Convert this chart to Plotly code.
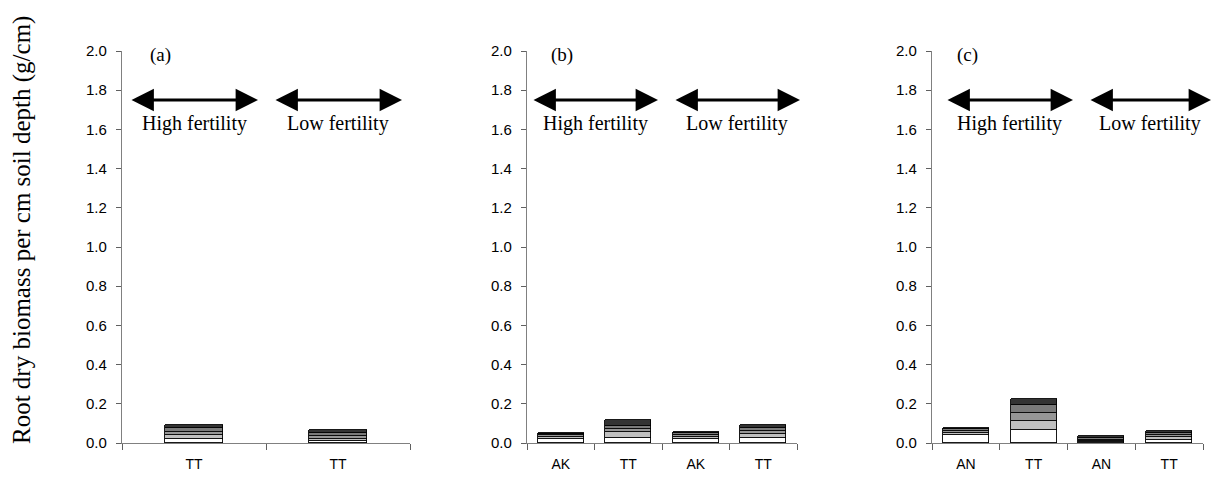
import plotly.graph_objects as go

# ---------------- data ----------------
layer_names = ["Layer 1", "Layer 2", "Layer 3", "Layer 4", "Layer 5"]
layer_colors = ["#ffffff", "#c0c0c0", "#969696", "#7a7a7a", "#333333"]

panel_a_labels = ["TT", "TT"]
panel_a_values = [  # one list per layer (bottom -> top)
    [0.022, 0.010],
    [0.018, 0.012],
    [0.018, 0.014],
    [0.018, 0.015],
    [0.018, 0.015],
]

panel_b_labels = ["AK", "TT", "AK", "TT"]
panel_b_values = [
    [0.020, 0.028, 0.020, 0.028],
    [0.010, 0.026, 0.012, 0.017],
    [0.009, 0.015, 0.009, 0.015],
    [0.007, 0.018, 0.008, 0.015],
    [0.007, 0.029, 0.007, 0.015],
]

panel_c_labels = ["AN", "TT", "AN", "TT"]
panel_c_values = [
    [0.039, 0.065, 0.004, 0.017],
    [0.014, 0.046, 0.004, 0.013],
    [0.010, 0.041, 0.008, 0.010],
    [0.007, 0.044, 0.010, 0.010],
    [0.005, 0.031, 0.008, 0.010],
]

panel_tags = ["(a)", "(b)", "(c)"]
fertility_labels = ["High fertility", "Low fertility"]
y_ticks = [0.0, 0.2, 0.4, 0.6, 0.8, 1.0, 1.2, 1.4, 1.6, 1.8, 2.0]
y_title = "Root dry biomass per cm soil depth (g/cm)"

# ---------------- layout helpers ----------------
OFF = 8
W, H = 1221 - 2 * OFF, 479 - 2 * OFF
def px(x):
    return (x - OFF) / W
def py(y):
    return 1 - (y - OFF) / H

panels = [
    dict(labels=panel_a_labels, values=panel_a_values, dom=(122, 410), width=0.4,
         arrows=[(130, 258), (274, 402)], tag_x=160),
    dict(labels=panel_b_labels, values=panel_b_values, dom=(527, 797), width=0.68,
         arrows=[(532, 658), (674, 800)], tag_x=562),
    dict(labels=panel_c_labels, values=panel_c_values, dom=(932, 1203), width=0.68,
         arrows=[(946, 1073), (1089, 1211)], tag_x=968),
]

ydom = (py(443), py(51))
fig = go.Figure()
serif = "Liberation Serif, Times New Roman, serif"
sans = "Liberation Sans, Arial, sans-serif"

annotations = []
for i, p in enumerate(panels):
    xa = "x" if i == 0 else f"x{i+1}"
    ya = "y" if i == 0 else f"y{i+1}"
    xs = list(range(len(p["labels"])))
    for li in range(len(layer_names)):
        fig.add_trace(go.Bar(
            x=xs, y=p["values"][li], name=layer_names[li],
            marker=dict(color=layer_colors[li], line=dict(color="#000000", width=0.9)),
            width=p["width"], xaxis=xa, yaxis=ya, showlegend=False,
        ))
    n = len(xs)
    axis_key = "xaxis" if i == 0 else f"xaxis{i+1}"
    yaxis_key = "yaxis" if i == 0 else f"yaxis{i+1}"
    fig.layout[axis_key] = dict(
        domain=[px(p["dom"][0]), px(p["dom"][1])], anchor=ya, automargin=False,
        range=[-0.5, n - 0.5], tickmode="array", tickvals=xs, ticktext=p["labels"],
        ticks="", ticklabelstandoff=8, showgrid=False, zeroline=False, showline=True,
        linecolor="#808080", linewidth=1.3,
        tickfont=dict(family=sans, size=14, color="#000000"),
        minor=dict(tickmode="array", tickvals=[k - 0.5 for k in range(n + 1)],
                   ticks="outside", ticklen=6, tickcolor="#606060", tickwidth=1.3,
                   showgrid=False),
        fixedrange=True,
    )
    fig.layout[yaxis_key] = dict(
        domain=list(ydom), anchor=xa, range=[0, 2.0], automargin=False,
        tickmode="array", tickvals=y_ticks, ticktext=[f"{v:.1f}" for v in y_ticks],
        ticks="outside", ticklen=5, tickcolor="#606060", tickwidth=1.3,
        ticklabelstandoff=6,
        showgrid=False, zeroline=False, showline=True,
        linecolor="#808080", linewidth=1.3,
        tickfont=dict(family=sans, size=15, color="#000000"),
        fixedrange=True,
    )
    # panel tag
    annotations.append(dict(text=panel_tags[i], x=px(p["tag_x"]), y=py(55),
                            xref="paper", yref="paper", showarrow=False,
                            xanchor="center", yanchor="middle",
                            font=dict(family=serif, size=19, color="#000000")))
    for j, (x0, x1) in enumerate(p["arrows"]):
        annotations.append(dict(text="", x=px(x1), y=py(100), xref="paper", yref="paper",
                                ax=-(x1 - x0), ay=0, axref="pixel", ayref="pixel",
                                showarrow=True, arrowhead=2, arrowside="end+start",
                                arrowwidth=2.8, arrowsize=1.6, arrowcolor="#000000"))
        annotations.append(dict(text=fertility_labels[j], x=px((x0 + x1) / 2), y=py(123),
                                xref="paper", yref="paper", showarrow=False,
                                xanchor="center", yanchor="middle",
                                font=dict(family=serif, size=20, color="#000000")))

annotations.append(dict(text=y_title, x=px(22), y=py(230), xref="paper", yref="paper",
                        showarrow=False, textangle=-90, xanchor="center", yanchor="middle",
                        font=dict(family=serif, size=25, color="#000000")))

fig.update_layout(
    width=W, height=H, margin=dict(l=0, r=0, t=0, b=0, autoexpand=False),
    barmode="stack", bargap=0, plot_bgcolor="#ffffff", paper_bgcolor="#ffffff",
    annotations=annotations, showlegend=False,
)

fig.write_html("out.html")
